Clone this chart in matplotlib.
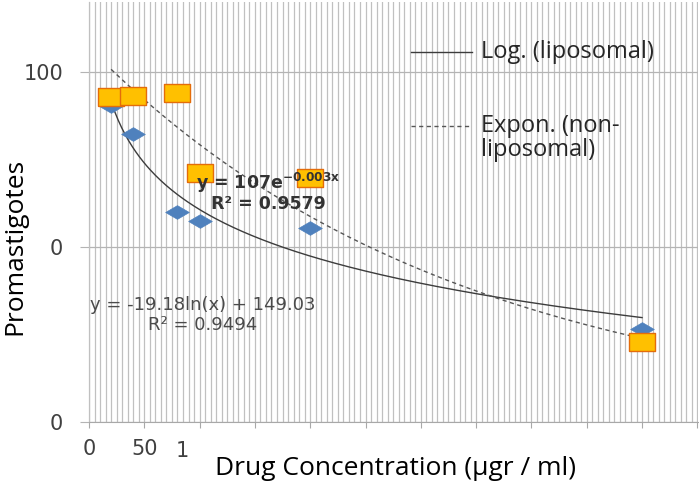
import numpy as np
import matplotlib
matplotlib.use("Agg")
import matplotlib.pyplot as plt
from matplotlib.ticker import MultipleLocator

# drug concentration (µgr / ml)
conc = [20, 40, 80, 100, 200, 500]
# promastigotes, liposomal form (blue diamonds)
liposomal = [90.3, 82.3, 60.0, 57.4, 55.4, 26.6]
# promastigotes, non-liposomal form (orange squares)
non_liposomal = [92.9, 93.1, 94.0, 71.1, 69.8, 22.9]

# trendline coefficients as printed on the chart
log_a, log_b = -19.18, 149.03      # y = a ln(x) + b
exp_a, exp_k = 107.0, -0.003       # y = a e^(k x)

yticks = [0, 50, 100]
ytick_labels = ["0", "0", "100"]
xticks = list(range(0, 551, 50))
xtick_labels = ["0", "50"] + [""] * (len(xticks) - 2)

GRID = "#c0c0c0"
SANS = ["Open Sans", "DejaVu Sans"]

fig = plt.figure(figsize=(6.99, 4.88), dpi=100)
ax = fig.add_axes([0.1273, 0.1352, 0.8713, 0.8607])

ax.set_xlim(0, 550.6)
ax.set_ylim(0, 120)

ax.set_xticks(xticks)
ax.set_xticklabels(xtick_labels)
ax.xaxis.set_minor_locator(MultipleLocator(5))
ax.set_yticks(yticks)
ax.set_yticklabels(ytick_labels)

ax.grid(True, which="both", axis="x", color=GRID, lw=0.9)
ax.grid(True, which="major", axis="y", color="#b4b4b4", lw=0.9)
ax.set_axisbelow(True)

for s in ["top", "right"]:
    ax.spines[s].set_visible(False)
ax.spines["left"].set_color(GRID)
ax.spines["left"].set_linewidth(0.9)
ax.spines["bottom"].set_color("#a8a8a8")

ax.tick_params(axis="x", which="major", length=4.5, color="#a8a8a8",
               labelsize=15, labelcolor="#404040", pad=8)
ax.tick_params(axis="x", which="minor", length=0)
ax.tick_params(axis="y", length=6.5, color="#b4b4b4",
               labelsize=15, labelcolor="#404040", pad=12)
# third x label sits left of its tick in the original
ax.text(84, -0.069, "1", transform=ax.get_xaxis_transform(), ha="center",
        va="center", fontsize=15, color="#404040")

# trendlines
xs = np.linspace(conc[0], conc[-1], 300)
ax.plot(xs, log_a * np.log(xs) + log_b, color="#3c3c3c", lw=1.0, zorder=3)
ax.plot(xs, exp_a * np.exp(exp_k * xs), color="#555555", lw=1.0,
        ls=(0, (3, 2.5)), zorder=3)

diamond = [(-1, 0), (0, 0.58), (1, 0), (0, -0.58), (-1, 0)]
rect = [(-1, -0.66), (1, -0.66), (1, 0.66), (-1, 0.66), (-1, -0.66)]
ax.scatter(conc, liposomal, marker=diamond, s=17 ** 2, color="#4f81bd",
           edgecolor="#4f81bd", lw=0.5, zorder=4)
ax.scatter(conc, non_liposomal, marker=rect, s=19 ** 2, color="#ffc000",
           edgecolor="#e46c0a", lw=1.0, zorder=5)

# trendline equations
ax.text(103, 30.6, "y = -19.18ln(x) + 149.03\nR² = 0.9494", ha="center",
        va="center", multialignment="center", linespacing=1.1,
        fontsize=13, color="#4a4a4a", zorder=6)
ax.text(162, 65.8, "y = 107e$^{\\mathregular{-0.003x}}$\nR² = 0.9579",
        ha="center", va="center", multialignment="center", linespacing=1.0,
        fontsize=12.5, fontweight="bold", color="#333333", zorder=6)

# legend (no frame, entries drawn as in the original)
ax.plot([0.529, 0.629], [0.881, 0.881], transform=ax.transAxes,
        color="#3c3c3c", lw=1.0)
ax.text(0.644, 0.881, "Log. (liposomal)", transform=ax.transAxes,
        va="center", ha="left", fontsize=17, family=SANS, color="#262626")
ax.plot([0.529, 0.629], [0.705, 0.705], transform=ax.transAxes,
        color="#555555", lw=1.0, ls=(0, (3, 2.5)))
ax.text(0.644, 0.676, "Expon. (non-\nliposomal)", transform=ax.transAxes,
        va="center", ha="left", fontsize=17, family=SANS, color="#262626",
        linespacing=1.0)

ax.set_xlabel("Drug Concentration (µgr / ml)", fontsize=19, family=SANS,
              va="center")
ax.xaxis.set_label_coords(0.504, -0.11)
ax.set_ylabel("Promastigotes", fontsize=19, family=SANS, va="center")
ax.yaxis.set_label_coords(-0.1215, 0.417)

fig.savefig("out.png", dpi=100)
